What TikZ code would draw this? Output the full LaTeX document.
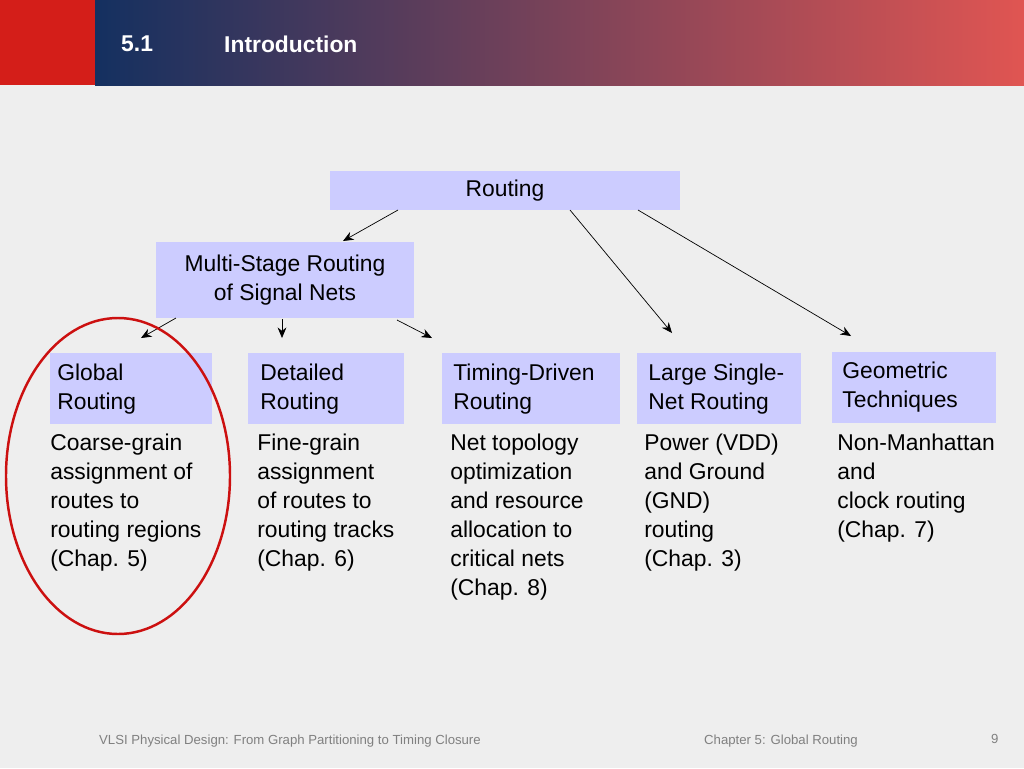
\documentclass[tikz,border=0pt]{standalone}
\usepackage{fontspec}
\setmainfont{Liberation Sans}
\usetikzlibrary{positioning,calc,arrows.meta}
\definecolor{boxblue}{RGB}{204,204,255}
\definecolor{bggray}{RGB}{238,238,238}
\definecolor{hdrred}{RGB}{212,30,25}
\definecolor{hdrblue}{RGB}{20,48,96}
\definecolor{hdrpink}{RGB}{224,85,82}
\definecolor{ringred}{RGB}{204,16,16}
\begin{document}
\begin{tikzpicture}[x=0.02cm,y=-0.02cm,
    task/.style={rectangle, fill=boxblue, inner sep=0pt, align=left, anchor=north west, text width=#1, font=\fontsize{13}{16.5}\selectfont},
    desc/.style={anchor=north west, align=left, inner sep=0pt, font=\fontsize{13}{16.5}\selectfont},
    link/.style={-{Stealth[length=6pt,width=5pt]}, thin}
]
    \useasboundingbox (0,0) rectangle (1024,768);
    \fill[bggray] (0,0) rectangle (1024,768);
    % header
    \shade[left color=hdrblue, right color=hdrpink] (95,0) rectangle (1024,85);
    \fill[hdrred] (0,0) rectangle (95,85);
    \node[anchor=west, text=white, font=\fontsize{13}{16}\selectfont\bfseries] (num) at (115,44) {5.1};
    \node[anchor=west, text=white, font=\fontsize{13}{16}\selectfont\bfseries] (title) at (218,44) {Introduction};

    % top boxes
    \node[fill=boxblue, minimum width=350*0.02cm, minimum height=39*0.02cm, font=\fontsize{13}{16}\selectfont] (routing) at (505,190.5) {Routing};
    \node[fill=boxblue, minimum width=258*0.02cm, minimum height=76*0.02cm, align=center, font=\fontsize{13}{16.5}\selectfont] (multi) at (285,280) {Multi-Stage Routing\\of Signal Nets};

    % category boxes
    \node[fill=boxblue, minimum width=162*0.02cm, minimum height=71*0.02cm, anchor=north west] (global) at (50,353) {};
    \node[desc] at (57,364) {Global\\Routing};
    \node[fill=boxblue, minimum width=156*0.02cm, minimum height=71*0.02cm, anchor=north west] (detailed) at (248,353) {};
    \node[desc] at (260,364) {Detailed\\Routing};
    \node[fill=boxblue, minimum width=178*0.02cm, minimum height=71*0.02cm, anchor=north west] (timing) at (442,353) {};
    \node[desc] at (453,364) {Timing-Driven\\Routing};
    \node[fill=boxblue, minimum width=164*0.02cm, minimum height=71*0.02cm, anchor=north west] (large) at (637,353) {};
    \node[desc] at (648,364) {Large Single-\\Net Routing};
    \node[fill=boxblue, minimum width=164*0.02cm, minimum height=71*0.02cm, anchor=north west] (geom) at (832,352) {};
    \node[desc] at (842,362) {Geometric\\Techniques};

    % descriptions
    \node[desc] (d1) at (50,434) {Coarse-grain\\assignment of\\routes to\\routing regions\\(Chap. 5)};
    \node[desc] (d2) at (257,434) {Fine-grain\\assignment\\of routes to\\routing tracks\\(Chap. 6)};
    \node[desc] (d3) at (450,434) {Net topology\\optimization\\and resource\\allocation to\\critical nets\\(Chap. 8)};
    \node[desc] (d4) at (644,434) {Power (VDD)\\and Ground\\(GND)\\routing\\(Chap. 3)};
    \node[desc] (d5) at (837,434) {Non-Manhattan\\and\\clock routing\\(Chap. 7)};

    % arrows
    \coordinate (r1) at (398,210); \coordinate (r2) at (570,210); \coordinate (r3) at (638,210);
    \coordinate (m0) at (343,241);
    \coordinate (m1) at (176,318); \coordinate (m2) at (282,319); \coordinate (m3) at (397,320);
    \coordinate (t1) at (141,338); \coordinate (t2) at (282,338); \coordinate (t3) at (432,338);
    \coordinate (t4) at (672,333); \coordinate (t5) at (851,336);
    \draw[link] (r1) -- (m0);
    \draw[link] (r2) -- (t4);
    \draw[link] (r3) -- (t5);
    \draw[link] (m1) -- (t1);
    \draw[link] (m2) -- (t2);
    \draw[link] (m3) -- (t3);

    % highlight
    \draw[ringred, line width=1.4pt] (118,476) ellipse (112 and 158);

    % footer
    \node[anchor=west, text=gray, font=\fontsize{7.5}{9}\selectfont] (foot1) at (93,741) {VLSI Physical Design: From Graph Partitioning to Timing Closure};
    \node[anchor=west, text=gray, font=\fontsize{7.5}{9}\selectfont] (foot2) at (698,741) {Chapter 5: Global Routing};
    \node[anchor=west, text=gray, font=\fontsize{7.5}{9}\selectfont] (page) at (985,739) {9};
\end{tikzpicture}
\end{document}
